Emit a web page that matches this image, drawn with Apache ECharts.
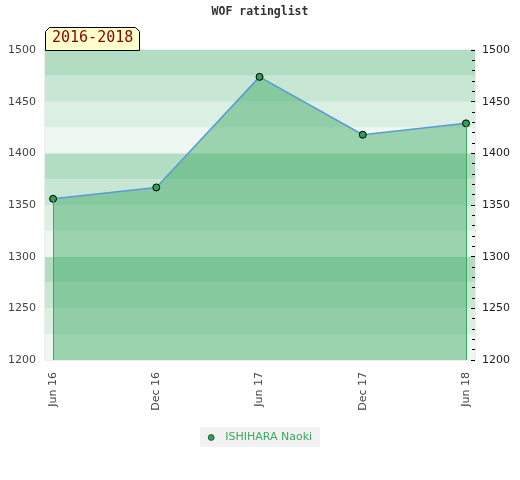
<!DOCTYPE html>
<html>
<head>
<meta charset="utf-8">
<script src="https://cdn.jsdelivr.net/npm/echarts@6/dist/echarts.min.js"></script>
<style>html,body{margin:0;padding:0;background:#fff;}#c{width:520px;height:480px;}</style>
</head>
<body>
<div id="c"></div>
<script>
var categories = ['Jun 16', 'Dec 16', 'Jun 17', 'Dec 17', 'Jun 18'];
var ratings = [1356, 1367, 1474, 1418, 1429];
var yTicks = [1200, 1250, 1300, 1350, 1400, 1450, 1500];
var seriesName = 'ISHIHARA Naoki';
var periodLabel = '2016-2018';
var chartTitle = 'WOF ratinglist';

var idx = categories.map(function (c, i) { return i; });
var points = ratings.map(function (v, i) { return [i, v]; });
var yMin = yTicks[0], yMax = yTicks[yTicks.length - 1];
var last = ratings.length - 1;
var plain = function (v) { return String(v); };

var chart = echarts.init(document.getElementById('c'));
var font = 'DejaVu Sans';
chart.setOption({
  animation: false,
  graphic: [{
    type: 'polygon', z: 1, silent: true,
    shape: { points: [[45.5, 50.5], [45.5, 31.5], [49.5, 27.5], [135.5, 27.5], [139.5, 31.5], [139.5, 50.5]] },
    style: { fill: '#ffffcc', stroke: '#000', lineWidth: 1 }
  }],
  title: [
    { text: chartTitle, left: 'center', top: 6, padding: 0,
      textStyle: { fontFamily: 'DejaVu Sans Mono', fontWeight: 'bold', fontSize: 11.5, color: '#333' } },
    { text: periodLabel, left: 52, top: 30, padding: 0, z: 10,
      textStyle: { fontFamily: 'DejaVu Sans Mono', fontWeight: 'normal', fontSize: 15, lineHeight: 17, color: '#8b0000' } }
  ],
  legend: {
    bottom: 33, left: 'center', icon: 'circle', itemWidth: 6, itemHeight: 6,
    backgroundColor: '#f2f2f2', padding: [5, 8, 4, 8], itemGap: 8,
    itemStyle: { color: '#2e9e58', borderColor: '#000', borderWidth: 0.5 },
    textStyle: { fontFamily: font, fontSize: 11, color: '#3aaa5e', padding: [0, 0, 0, 6] },
    data: [seriesName]
  },
  grid: { left: 45, right: 45, top: 50, bottom: 120, show: true, borderColor: '#dcdcdc', borderWidth: 1, backgroundColor: 'transparent' },
  xAxis: {
    type: 'value', min: -0.078, max: last + 0.087,
    axisLine: { show: false }, axisTick: { show: false }, splitLine: { show: false },
    axisLabel: {
      customValues: idx, rotate: 90, margin: 12,
      fontFamily: font, fontSize: 11, color: '#444',
      formatter: function (v) { return categories[Math.round(v)]; }
    }
  },
  yAxis: [
    { type: 'value', position: 'left', min: yMin, max: yMax, interval: 50,
      axisLine: { show: false }, axisTick: { show: false }, splitLine: { show: false },
      axisLabel: { fontFamily: font, fontSize: 11, color: '#444', margin: 9, formatter: plain } },
    { type: 'value', position: 'right', min: yMin, max: yMax, interval: 50,
      axisLine: { show: false },
      axisTick: { show: true, inside: true, length: 4, lineStyle: { color: '#000' } },
      minorTick: { show: true, splitNumber: 5, length: 3, lineStyle: { color: '#000' } },
      splitLine: { show: false },
      axisLabel: { fontFamily: font, fontSize: 11, color: '#222', margin: 7, formatter: plain } },
    { type: 'value', position: 'left', min: yMin, max: yMax, interval: 25,
      axisLine: { show: false }, axisTick: { show: false }, axisLabel: { show: false }, splitLine: { show: false },
      splitArea: { show: true, areaStyle: { color: ['#eef7f1', '#dcefe3', '#c8e6d4', '#b3ddc3'] } } }
  ],
  series: [{
    name: seriesName, type: 'line', yAxisIndex: 0, data: points,
    symbol: 'circle', symbolSize: 7,
    lineStyle: { color: '#5b9bd5', width: 1.5 },
    itemStyle: { color: '#2e9e58', borderColor: '#000', borderWidth: 1 },
    areaStyle: { color: 'rgba(56,167,95,0.46)', opacity: 1, origin: 'start' },
    markLine: {
      silent: true, symbol: 'none', label: { show: false },
      lineStyle: { color: '#3aaa5e', width: 1, type: 'solid' },
      data: [
        [{ coord: [0, ratings[0]] }, { coord: [0, yMin] }],
        [{ coord: [last, ratings[last]] }, { coord: [last, yMin] }]
      ]
    }
  }]
});
</script>
</body>
</html>
